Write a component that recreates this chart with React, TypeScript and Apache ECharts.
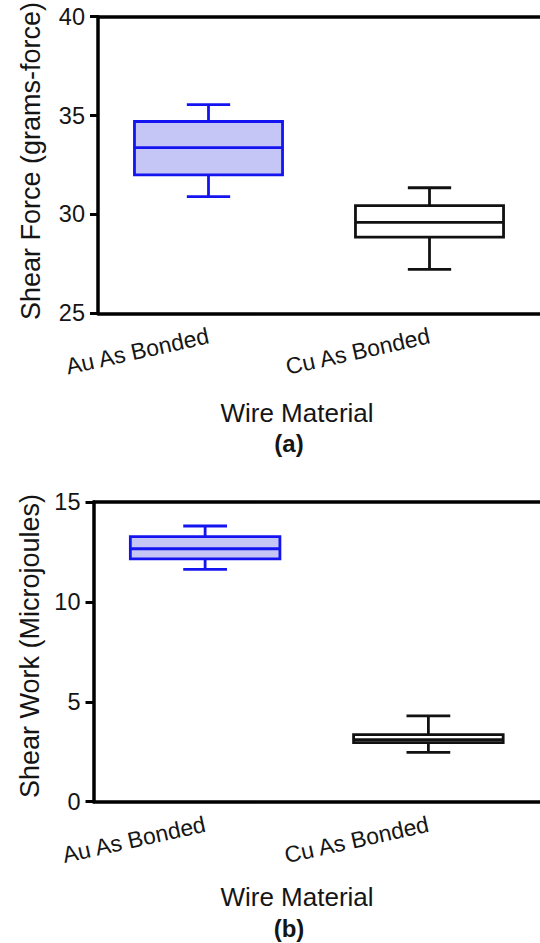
import React, { useEffect, useRef } from 'react';
import * as echarts from 'echarts';

const categories = ['Au As Bonded', 'Cu As Bonded'];

// Panel (a): Shear Force (grams-force)
const forceLow = [30.9, 27.22];
const forceQ1 = [32.0, 28.85];
const forceMedian = [33.38, 29.6];
const forceQ3 = [34.7, 30.45];
const forceHigh = [35.55, 31.35];
const forceTicks = [25, 30, 35, 40];

// Panel (b): Shear Work (Microjoules)
const workLow = [11.63, 2.47];
const workQ1 = [12.15, 2.96];
const workMedian = [12.66, 3.1];
const workQ3 = [13.27, 3.36];
const workHigh = [13.8, 4.3];
const workTicks = [0, 5, 10, 15];

const FONT = '"Liberation Sans", Arial, Helvetica, sans-serif';
const TEXT = '#151515';
const strokeColors = ['#1414f0', '#111111'];
const fillColors = ['#c6c6f6', '#ffffff'];

function buildData(lo: number[], q1: number[], md: number[], q3: number[], hi: number[]) {
  return categories.map((_, i) => [i, lo[i], q1[i], md[i], q3[i], hi[i]]);
}

function renderBox(params: any, api: any) {
  const idx = api.value(0);
  const lo = api.coord([idx, api.value(1)]);
  const q1 = api.coord([idx, api.value(2)]);
  const md = api.coord([idx, api.value(3)]);
  const q3 = api.coord([idx, api.value(4)]);
  const hi = api.coord([idx, api.value(5)]);
  const band = api.size([1, 0])[0];
  const bw = band * 0.67;
  const cw = band * 0.196;
  const cx = lo[0];
  const stroke = strokeColors[params.dataIndex];
  const fill = fillColors[params.dataIndex];
  const ls = { stroke, lineWidth: 2.8, fill: 'none' };
  return {
    type: 'group',
    children: [
      { type: 'line', shape: { x1: cx, y1: q3[1], x2: cx, y2: hi[1] }, style: ls },
      { type: 'line', shape: { x1: cx - cw / 2, y1: hi[1], x2: cx + cw / 2, y2: hi[1] }, style: ls },
      { type: 'line', shape: { x1: cx, y1: q1[1], x2: cx, y2: lo[1] }, style: ls },
      { type: 'line', shape: { x1: cx - cw / 2, y1: lo[1], x2: cx + cw / 2, y2: lo[1] }, style: ls },
      {
        type: 'rect',
        shape: { x: cx - bw / 2, y: q3[1], width: bw, height: q1[1] - q3[1] },
        style: { stroke, lineWidth: 2.8, fill },
      },
      { type: 'line', shape: { x1: cx - bw / 2, y1: md[1], x2: cx + bw / 2, y2: md[1] }, style: ls },
    ],
  };
}

const axisLineStyle = { color: '#000', width: 3.5 };

function xAxes(gridIndex: number) {
  return [
    {
      gridIndex,
      type: 'category',
      data: categories,
      position: 'bottom',
      axisLine: { lineStyle: axisLineStyle },
      axisTick: { alignWithLabel: true, length: 6, lineStyle: { color: '#000', width: 3 } },
      axisLabel: {
        interval: 0,
        rotate: 12.5,
        margin: 22,
        fontSize: 23,
        color: TEXT,
        fontFamily: FONT,
      },
      splitLine: { show: false },
    },
    {
      gridIndex,
      type: 'category',
      data: categories,
      position: 'top',
      axisLine: { lineStyle: axisLineStyle },
      axisTick: { show: false },
      axisLabel: { show: false },
      splitLine: { show: false },
    },
  ];
}

function yAxis(gridIndex: number, ticks: number[]) {
  return {
    gridIndex,
    type: 'value',
    min: ticks[0],
    max: ticks[ticks.length - 1],
    interval: ticks[1] - ticks[0],
    axisLine: { show: true, lineStyle: axisLineStyle },
    axisTick: { show: true, length: 8, lineStyle: { color: '#000', width: 3 } },
    axisLabel: { margin: 13, fontSize: 23.5, color: TEXT, fontFamily: FONT },
    splitLine: { show: false },
  };
}

function txt(text: string, x: number, y: number, size: number, opts: any = {}) {
  return {
    type: 'text',
    x,
    y,
    rotation: opts.rotation || 0,
    style: {
      text,
      fill: TEXT,
      font: `${opts.bold ? 'bold ' : ''}${size}px ${FONT}`,
      textAlign: 'center',
      textVerticalAlign: 'middle',
    },
  };
}

export default function App() {
  const ref = useRef<HTMLDivElement>(null);
  useEffect(() => {
    document.body.style.margin = '0';
    const chart = echarts.init(ref.current as HTMLDivElement, null, { renderer: 'svg' });
    const option: any = {
      animation: false,
      backgroundColor: '#ffffff',
      grid: [
        { left: 98, top: 16.7, width: 446, height: 296.6 },
        { left: 93.5, top: 502, width: 452, height: 299.7 },
      ],
      xAxis: [...xAxes(0), ...xAxes(1)],
      yAxis: [yAxis(0, forceTicks), yAxis(1, workTicks)],
      series: [
        {
          type: 'custom',
          xAxisIndex: 0,
          yAxisIndex: 0,
          renderItem: renderBox,
          encode: { x: 0, y: [1, 2, 3, 4, 5] },
          data: buildData(forceLow, forceQ1, forceMedian, forceQ3, forceHigh),
          clip: false,
        },
        {
          type: 'custom',
          xAxisIndex: 2,
          yAxisIndex: 1,
          renderItem: renderBox,
          encode: { x: 0, y: [1, 2, 3, 4, 5] },
          data: buildData(workLow, workQ1, workMedian, workQ3, workHigh),
          clip: false,
        },
      ],
      graphic: [
        txt('Shear Force (grams-force)', 31, 161, 27, { rotation: Math.PI / 2 }),
        txt('Wire Material', 297, 412.5, 26),
        txt('(a)', 289, 443, 24, { bold: true }),
        txt('Shear Work (Microjoules)', 30, 646, 27, { rotation: Math.PI / 2 }),
        txt('Wire Material', 297, 897, 26),
        txt('(b)', 289, 928.5, 24, { bold: true }),
      ],
    };
    chart.setOption(option);
    return () => chart.dispose();
  }, []);
  return <div ref={ref} style={{ width: 540, height: 943 }} />;
}
